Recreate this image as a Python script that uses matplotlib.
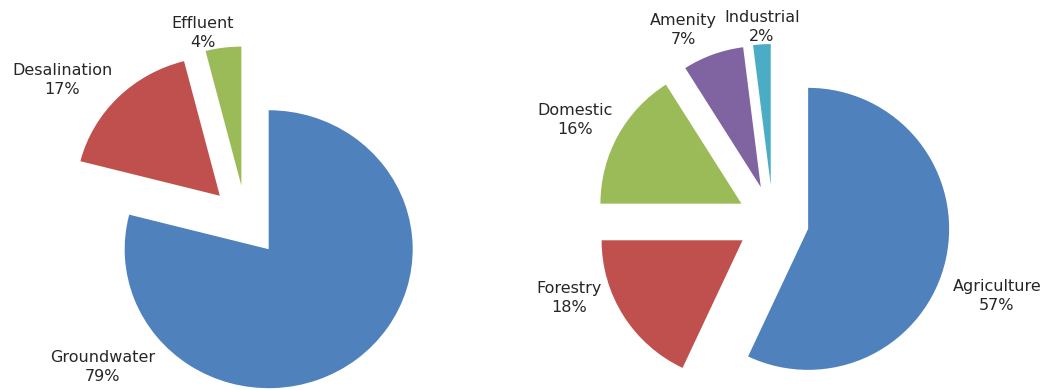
import matplotlib
matplotlib.use("Agg")
import matplotlib.pyplot as plt

# water supply by source
supply_labels = ["Groundwater", "Desalination", "Effluent"]
supply_share = [79, 17, 4]
supply_colors = ["#4F81BD", "#C0504D", "#9BBB59"]

# water demand by use
demand_labels = ["Agriculture", "Forestry", "Domestic", "Amenity", "Industrial"]
demand_share = [57, 18, 16, 7, 2]
demand_colors = ["#4F81BD", "#C0504D", "#9BBB59", "#8064A2", "#4BACC6"]

W, H = 1052, 390
fig = plt.figure(figsize=(W / 100, H / 100), dpi=100)


def draw_pie(values, colors, cx, cy, radius, explode, yscale=1.0):
    # full-figure axes in pixel units; yscale < 1 squashes the pie vertically
    a = fig.add_axes([0, 0, 1, 1])
    a.pie(values, colors=colors, startangle=90, counterclock=False,
          center=(cx, (H - cy) / yscale), radius=radius,
          explode=[explode] * len(values),
          wedgeprops=dict(linewidth=0), frame=True)
    a.set_xlim(0, W)
    a.set_ylim(0, H / yscale)
    a.set_aspect("auto")
    a.axis("off")
    a.patch.set_alpha(0)
    return a


draw_pie(supply_share, supply_colors, 246, 221, 144, 37, yscale=0.965)
draw_pie(demand_share, demand_colors, 773, 221, 141, 36)

# data labels (pixel positions, y measured from the top)
supply_pos = [(103, 367), (62, 80), (203, 33)]
demand_pos = [(997, 296), (569, 298), (575, 120), (683, 30), (762, 27)]

txt = dict(ha="center", va="center", fontsize=11.5, color="#262626",
           linespacing=1.4, family="DejaVu Sans")
for name, val, (x, y) in zip(supply_labels, supply_share, supply_pos):
    fig.text(x / W, 1 - y / H, f"{name}\n{val}%", **txt)
for name, val, (x, y) in zip(demand_labels, demand_share, demand_pos):
    fig.text(x / W, 1 - y / H, f"{name}\n{val}%", **txt)

fig.savefig("out.png", dpi=100)
